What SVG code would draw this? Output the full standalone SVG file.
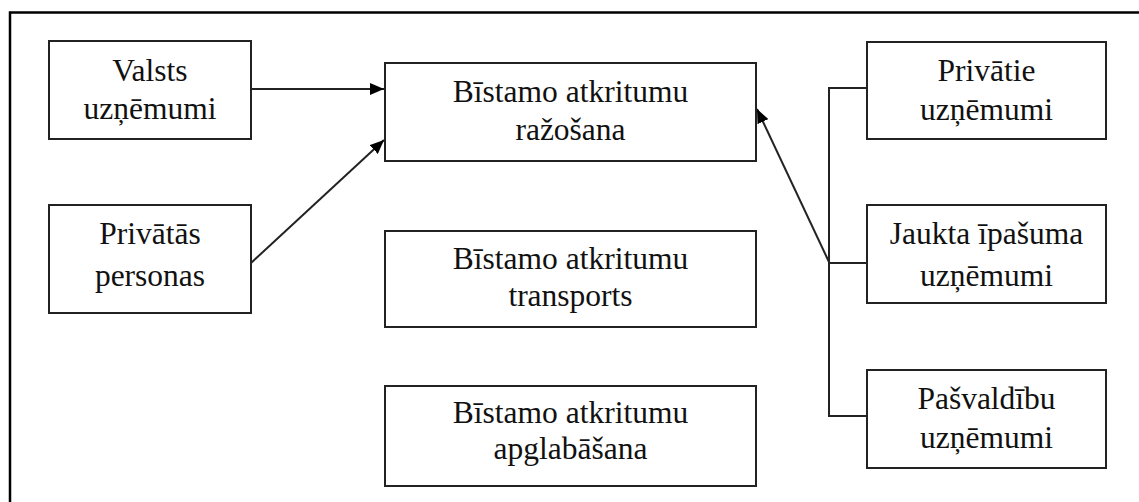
<svg xmlns="http://www.w3.org/2000/svg" width="1139" height="502" viewBox="0 0 1139 502">
<style>
.box{fill:#fff;stroke:#222;stroke-width:2}
.t{font-family:"Liberation Serif","Times New Roman",serif;font-size:31.5px;fill:#111;text-anchor:middle}
.c{fill:none;stroke:#222;stroke-width:2}
</style>
<defs>
<marker id="ah" markerWidth="14" markerHeight="12" refX="14" refY="6" orient="auto" markerUnits="userSpaceOnUse">
<path d="M0,0 L14,6 L0,12 Z" fill="#000"/>
</marker>
</defs>
<rect width="1139" height="502" fill="#fff"/>
<path d="M10,502 V12.5 H1139" fill="none" stroke="#000" stroke-width="2.5"/>
<g id="connectors">
<line class="c" x1="251" y1="89" x2="384" y2="89" marker-end="url(#ah)"/>
<line class="c" x1="251" y1="263" x2="384" y2="140" marker-end="url(#ah)"/>
<line class="c" x1="829" y1="262" x2="757" y2="109" marker-end="url(#ah)"/>
<path class="c" d="M867,88 H829 V416 H867 M829,263 H867"/>
</g>
<g id="valsts">
<rect class="box" x="49" y="41" width="202" height="98"/>
<text class="t" x="150" y="81">Valsts</text>
<text class="t" x="150" y="119">uzņēmumi</text>
</g>
<g id="privatas">
<rect class="box" x="49" y="205" width="202" height="108"/>
<text class="t" x="150" y="244">Privātās</text>
<text class="t" x="150" y="286">personas</text>
</g>
<g id="razosana">
<rect class="box" x="385" y="63" width="371" height="98"/>
<text class="t" x="570.5" y="102">Bīstamo atkritumu</text>
<text class="t" x="570.5" y="140">ražošana</text>
</g>
<g id="transports">
<rect class="box" x="385" y="231" width="371" height="96"/>
<text class="t" x="570.5" y="269">Bīstamo atkritumu</text>
<text class="t" x="570.5" y="306">transports</text>
</g>
<g id="apglabasana">
<rect class="box" x="385" y="386" width="371" height="100"/>
<text class="t" x="570.5" y="423">Bīstamo atkritumu</text>
<text class="t" x="570.5" y="459">apglabāšana</text>
</g>
<g id="privatie">
<rect class="box" x="867" y="42" width="239" height="97"/>
<text class="t" x="986.5" y="81">Privātie</text>
<text class="t" x="986.5" y="120">uzņēmumi</text>
</g>
<g id="jaukta">
<rect class="box" x="867" y="205" width="239" height="98"/>
<text class="t" x="986.5" y="244">Jaukta īpašuma</text>
<text class="t" x="986.5" y="286">uzņēmumi</text>
</g>
<g id="pasvaldibu">
<rect class="box" x="867" y="370" width="239" height="98"/>
<text class="t" x="986.5" y="409">Pašvaldību</text>
<text class="t" x="986.5" y="448">uzņēmumi</text>
</g>
</svg>
